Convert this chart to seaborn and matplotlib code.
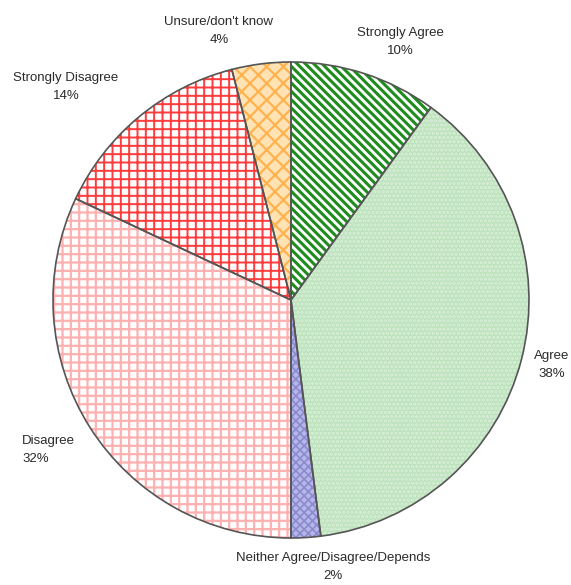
import matplotlib
matplotlib.use('Agg')
import matplotlib.pyplot as plt
import seaborn as sns

# survey answers, clockwise from the top
categories = ['Strongly Agree', 'Agree', 'Neither Agree/Disagree/Depends',
              'Disagree', 'Strongly Disagree', "Unsure/don't know"]
shares = [10, 38, 2, 32, 14, 4]

face_colors = ['white', '#bde2bd', '#b6b6e8', 'white', 'white', '#ffe3b5']
hatch_colors = ['#1e8c1e', '#d9f0d9', '#8a8ad0', '#ffb0b0', '#ff3c3c', '#ffb24d']
hatches = ['\\\\\\\\', '....', 'xxxx', '++', '++', 'xx']
hatch_widths = [2.2, 1.6, 1.2, 1.6, 1.4, 1.6]

sns.set_theme(style='white')
plt.rcParams['font.family'] = ['Liberation Sans', 'DejaVu Sans']
plt.rcParams['hatch.linewidth'] = 1.6

fig = plt.figure(figsize=(5.71, 5.85), dpi=100)
ax = fig.add_axes([0, 0, 1, 1])

# hatched fills
wedges, _ = ax.pie(shares, colors=face_colors, startangle=90, counterclock=False,
                   wedgeprops=dict(linewidth=0))
for w, h, hc, hw in zip(wedges, hatches, hatch_colors, hatch_widths):
    w.set_hatch(h)
    w.set_edgecolor(hc)
    if hasattr(w, 'set_hatch_linewidth'):
        w.set_hatch_linewidth(hw)

# outlines on top
ax.pie(shares, startangle=90, counterclock=False,
       wedgeprops=dict(fill=False, edgecolor='#555555', linewidth=1.2))

ax.set_aspect('auto')
ax.set_xlim(-1.2227, 1.1765)
ax.set_ylim(-1.1975, 1.2605)
ax.axis('off')

txt = dict(fontsize=9.5, color='#2a2a2a', va='center', linespacing=1.75)
ax.text(0.458, 1.084, 'Strongly Agree\n10%', ha='center', **txt)
ax.text(-0.303, 1.130, "Unsure/don't know\n4%", ha='center', **txt)
ax.text(-0.945, 0.895, 'Strongly Disagree\n14%', ha='center', **txt)
ax.text(1.097, -0.273, 'Agree\n38%', ha='center', **txt)
ax.text(-1.130, -0.630, 'Disagree\n32%', ha='left', multialignment='left', **txt)
ax.text(0.176, -1.122, 'Neither Agree/Disagree/Depends\n2%', ha='center', **txt)

fig.savefig('out.png', dpi=100)
